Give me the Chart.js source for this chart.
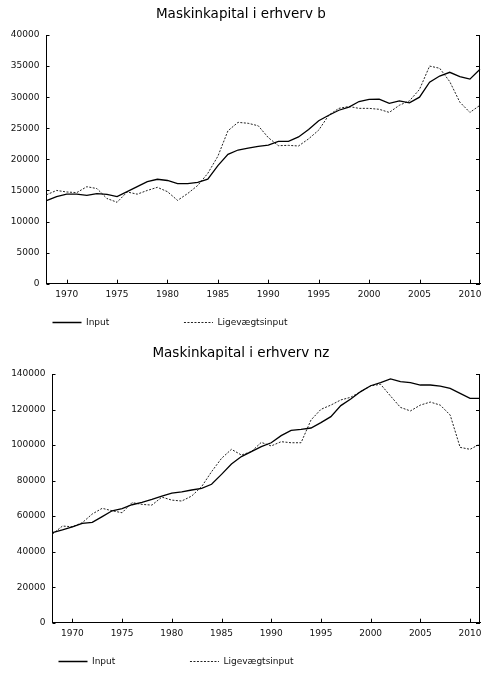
<!DOCTYPE html>
<html>
<head>
<meta charset="utf-8">
<script src="https://cdn.jsdelivr.net/npm/chart.js@4.4.1/dist/chart.umd.min.js"></script>
<style>
html, body { margin: 0; padding: 0; background: #fff; width: 486px; height: 673px; overflow: hidden; }
.box { position: absolute; left: 0; width: 486px; height: 337px; }
</style>
</head>
<body>
<div class="box" style="top:0"><canvas id="chartB"></canvas></div>
<div class="box" style="top:339px"><canvas id="chartNZ"></canvas></div>
<script>
// år (x-aksen)
const years = [1968, 1969, 1970, 1971, 1972, 1973, 1974, 1975, 1976, 1977,
  1978, 1979, 1980, 1981, 1982, 1983, 1984, 1985, 1986, 1987,
  1988, 1989, 1990, 1991, 1992, 1993, 1994, 1995, 1996, 1997,
  1998, 1999, 2000, 2001, 2002, 2003, 2004, 2005, 2006, 2007,
  2008, 2009, 2010, 2011];

// erhverv b
const inputB = [13350, 14000, 14400, 14400, 14200, 14500, 14370, 14000, 14800, 15600,
  16400, 16800, 16600, 16100, 16100, 16300, 16800, 19000, 20800, 21500,
  21800, 22100, 22300, 22900, 22900, 23600, 24800, 26200, 27100, 27900,
  28400, 29300, 29650, 29700, 29000, 29400, 29100, 30000, 32400, 33400,
  34000, 33300, 32900, 34500];
const ligeB = [14300, 15000, 14750, 14650, 15600, 15300, 13700, 13100, 14750, 14400,
  15000, 15500, 14800, 13400, 14500, 15800, 17750, 20500, 24600, 25950,
  25800, 25400, 23500, 22200, 22250, 22150, 23300, 24700, 27100, 28200,
  28500, 28200, 28200, 28050, 27550, 28700, 29400, 31250, 35000, 34650,
  32500, 29200, 27550, 28700];

// erhverv nz
const inputNZ = [50700, 52200, 54000, 55900, 56500, 59700, 63000, 64200, 66400, 67700,
  69400, 71300, 73000, 73600, 74700, 75600, 77900, 83500, 89300, 93500,
  96300, 99100, 101300, 105300, 108300, 108800, 109600, 112600, 116000, 122200,
  125900, 130100, 133400, 135100, 137200, 135700, 135100, 133800, 133800, 133200,
  131900, 129100, 126300, 126300];
const ligeNZ = [49900, 54400, 54000, 56300, 61200, 64400, 63000, 61900, 67600, 66600,
  66200, 70700, 69000, 68500, 71300, 76600, 85000, 92500, 97600, 94400,
  96300, 101500, 99500, 101900, 101300, 101300, 114100, 120100, 122500, 125400,
  126900, 130100, 133300, 134200, 127600, 121200, 119200, 122500, 124200, 122500,
  116900, 98700, 97600, 100600];

const seriesNames = ['Input', 'Ligevægtsinput'];
const yTicksB = { max: 40000, step: 5000 };
const yTicksNZ = { max: 140000, step: 20000 };

Chart.defaults.font.family = "'DejaVu Sans', sans-serif";
Chart.defaults.font.size = 9;
Chart.defaults.color = '#111';

// små tick-streger som peger ind i plottet
const innerTicks = {
  id: 'innerTicks',
  afterDraw(chart) {
    const { ctx, chartArea: a } = chart;
    const x = chart.scales.x, y = chart.scales.y;
    ctx.save();
    ctx.strokeStyle = '#000';
    ctx.lineWidth = 1;
    ctx.beginPath();
    x.ticks.forEach((t, i) => {
      if (!t.label) return;
      const px = Math.round(x.getPixelForTick(i)) + 0.5;
      ctx.moveTo(px, a.bottom);
      ctx.lineTo(px, a.bottom - 4);
    });
    y.ticks.forEach((t, i) => {
      const py = Math.round(y.getPixelForTick(i)) + 0.5;
      ctx.moveTo(a.left, py);
      ctx.lineTo(a.left + 3, py);
      ctx.moveTo(a.right, py);
      ctx.lineTo(a.right - 4, py);
    });
    // højre akse
    const rx = Math.round(a.right) - 0.5;
    ctx.moveTo(rx, a.top);
    ctx.lineTo(rx, a.bottom);
    ctx.stroke();
    ctx.restore();
  }
};

function makeChart(id, title, inputData, ligeData, yt, axisWidth) {
  const ctx = document.getElementById(id).getContext('2d');
  return new Chart(ctx, {
    type: 'line',
    data: {
      labels: years,
      datasets: [{
        label: seriesNames[0],
        data: inputData,
        borderColor: '#000',
        borderWidth: 1.3,
        pointRadius: 0,
        tension: 0,
        fill: false
      }, {
        label: seriesNames[1],
        data: ligeData,
        borderColor: '#222',
        borderWidth: 1,
        borderDash: [2, 1.5],
        pointRadius: 0,
        tension: 0,
        fill: false
      }]
    },
    options: {
      responsive: true,
      maintainAspectRatio: false,
      animation: false,
      layout: { padding: { left: 0, right: 4.3, top: 0, bottom: 0 } },
      plugins: {
        title: {
          display: true,
          text: title,
          color: '#000',
          font: { size: 13.5, weight: 'normal' },
          padding: { top: 5.9, bottom: 12.9 }
        },
        legend: {
          position: 'bottom',
          align: 'start',
          fullSize: false,
          labels: {
            usePointStyle: true,
            pointStyle: 'line',
            pointStyleWidth: 29,
            padding: 6,
            color: '#111',
            font: { size: 9 },
            generateLabels(chart) {
              const items = Chart.defaults.plugins.legend.labels.generateLabels(chart);
              items.forEach((item, i) => {
                const ds = chart.data.datasets[i];
                item.strokeStyle = ds.borderColor;
                item.lineWidth = ds.borderWidth;
                item.lineDash = ds.borderDash || [];
              });
              items[0].text = items[0].text + ' '.repeat(24);
              return items;
            }
          }
        },
        tooltip: { enabled: false }
      },
      scales: {
        x: {
          type: 'category',
          offset: false,
          grid: { display: false, drawTicks: false },
          border: { display: true, color: '#000', width: 1 },
          ticks: {
            autoSkip: false,
            maxRotation: 0,
            padding: 6,
            callback: function(value, index) {
              const yr = years[index];
              return yr % 5 === 0 ? String(yr) : '';
            }
          },
          afterFit: function(scale) { scale.height = 28.3; }
        },
        y: {
          min: 0,
          max: yt.max,
          grid: { display: false, drawTicks: false },
          border: { display: true, color: '#000', width: 1 },
          ticks: {
            stepSize: yt.step,
            padding: 7,
            callback: function(value) { return String(value); }
          },
          afterFit: function(scale) { scale.width = axisWidth; }
        }
      }
    },
    plugins: [innerTicks]
  });
}

makeChart('chartB', 'Maskinkapital i erhverv b', inputB, ligeB, yTicksB, 46.5);
makeChart('chartNZ', 'Maskinkapital i erhverv nz', inputNZ, ligeNZ, yTicksNZ, 52.5);
</script>
</body>
</html>
